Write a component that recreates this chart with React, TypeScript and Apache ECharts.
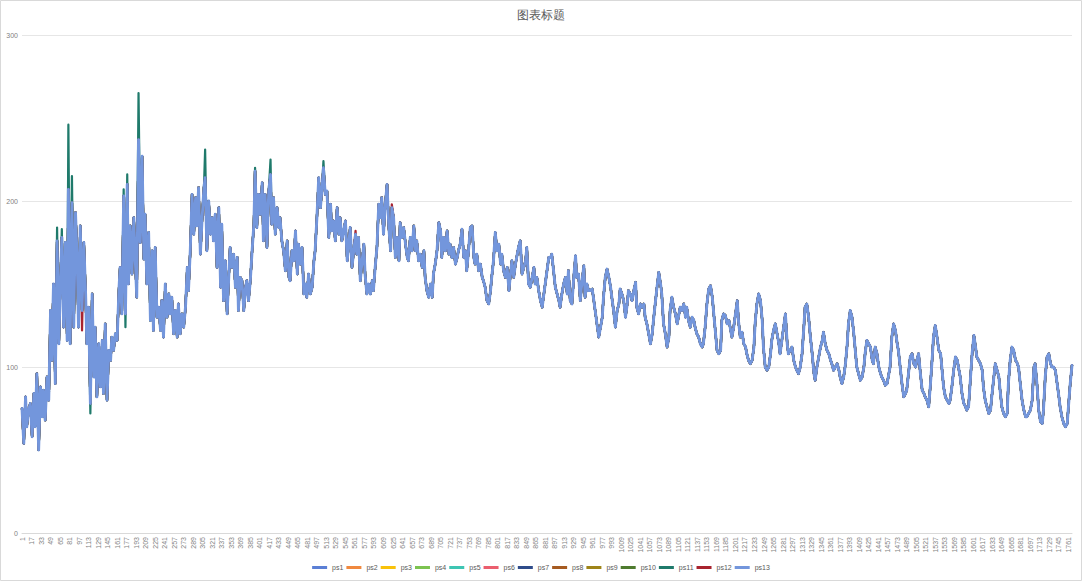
import React, { useEffect, useRef } from "react";
import * as echarts from "echarts";

const TITLE = "图表标题";
const SERIES_NAMES = ["ps1","ps2","ps3","ps4","ps5","ps6","ps7","ps8","ps9","ps10","ps11","ps12","ps13"];
const COLORS = ["#5B7FD5","#F0893F","#F9C20A","#7CC350","#3EC5B3","#EB5E6E","#2F4C8A","#A65B21","#9E8418","#4E7B2F","#1F7A6B","#A8232F","#7396DC"];
const CATEGORY_COUNT = 1767;
const Y_TICKS = [0, 100, 200, 300];

const seg1 = [75,54,82,64,74,78,58,84,64,96,50,88,70,86,68,94,80,134,104,150,90,176,114,144,178,124,175,116,207,114,199,124,193,162,124,185,134,175,144,114,136,78,144,94,124,82,114,88,116,84,126,80,110];
const seg2 = [104,118,110,120,116,146,160,132,203,132,210,150,185,156,190,160,142,237,175,227,165,192,150,181,128,170,122,172,130,136,122,140,118,150,130,144,132,142,120,134,118,138,120,132,124,136,160,146,170,204,180,202,185,208,168,190,208,214,170,200,180,190,176,192,160,196,148,186,140,164,132,156,172,160,168,148,166,134,154,152,134,148,152,140];
const seg3 = [152,170,186,218,184,204,192,211,176,204,172,206,216,186,202,180,196,184,190,176,170,158,176,154,152,170,164,182,156,174,162,172,144,150,142,156,144,148,164,170,190,214,196,210,220,204,206,178,198,182,188,176,196,180,190,176,182,188,164,172,184,160,170,180,168,178,152,164,174,156,144,150,144,152,146,160,172,198,190,202,180,198,210,184];
const seg4 = [170,196,190,166,178,164,187,178,184,174,166,164,178,170,185,170,176,164,168,160,170,154,146,142,150,142,156,162,170,187,182,166,178,170,182,168,174,166,172,162,166,170,174,183,166,170,158,170,184,185,166,162,168,158,162,154,152,148,140,138,146,154,164,181,170,174,162,168,158,154,160,146,154,164,154,162,168,172,176,156,160,164,172,150,148,154,160,150,154,146,140,136,142,150,158,166];
const seg5 = [166,168,158,148,144,140,136,144,150,154,144,158,140,138,154,167,154,156,140,152,161,142,150,146,146,147,142,134,126,118,124,130,142,154,159,154,148,142,134,124,134,138,147,144,140,130,138,146,144,140,146,151,136,132,138,136,138,130,126,120,114,120,128,138,148,157,150,144,126,120,112,118,134,142,136,132,126,130,136,134,138,130,136,128,124,130,128,124,120,118,114,112,114,124,138,147,149,142,134,122,110,108];
const seg6 = [110,128,132,131,126,128,124,118,124,132,140,128,118,121,114,112,108,104,102,104,112,126,138,144,140,128,112,100,98,100,108,116,122,126,120,114,108,116,124,132,114,108,110,112,104,100,98,96,100,108,124,136,138,130,118,108,96,92,100,106,112,116,121,114,110,108,104,102,98,100,102,98,94,90,94,102,114,126,134,130,120,108,100,96,92,94,100,108,116,114,112,104,102,112,108,100,96,94,92,89,90,96];
const seg7 = [100,118,126,122,114,110,100,90,82,84,86,96,106,108,102,100,104,108,96,86,84,82,80,76,90,106,118,125,118,110,108,100,88,82,80,78,80,88,98,106,104,100,94,84,78,76,74,76,92,108,119,114,106,104,102,98,88,80,76,72,74,82,92,102,98,94,86,76,72,70,72,90,104,112,110,104,103,100,90,80,74,70,70,72,74,80,100,102,90,74,67,66,74,94,106,108,102,100,100,98,90,82,76,70,66,64,66,76,90,101];

// ps11 (dark green) reaches further at these samples: [sample, value]
const PS11_PEAKS: [number, number][] = [[21,184],[24,183],[28,246],[30,215],[41,72],[61,207],[62,124],[63,216],[70,265],[110,231],[149,225],[181,224],[140,220]];
// ps12 (dark red) small tips
const PS12_PEAKS: [number, number][] = [[77,130],[36,122],[200,182],[222,198]];

const BASE = [...seg1, ...seg2, ...seg3, ...seg4, ...seg5, ...seg6, ...seg7];

export default function App() {
  const ref = useRef<HTMLDivElement>(null);
  useEffect(() => {
    if (!ref.current) return;
    const chart = echarts.init(ref.current, undefined, { renderer: "svg" });
    const categories = Array.from({ length: CATEGORY_COUNT }, (_, i) => String(i + 1));
    const step = (CATEGORY_COUNT - 1) / (BASE.length - 1);
    const toData = (vals: number[]) => vals.map((v, j) => [Math.round(j * step), v]);
    const withPeaks = (peaks: [number, number][]) => {
      const arr = BASE.slice();
      peaks.forEach(([j, v]) => { arr[j] = v; });
      return arr;
    };
    const series = SERIES_NAMES.map((name, i) => {
      let vals = BASE;
      if (name === "ps11") vals = withPeaks(PS11_PEAKS);
      if (name === "ps12") vals = withPeaks(PS12_PEAKS);
      const top = name === "ps13";
      return {
        name,
        type: "line",
        data: toData(vals),
        showSymbol: false,
        symbol: "none",
        lineStyle: { width: top ? 2.9 : 2.2, color: COLORS[i], join: "round", cap: "round" },
        itemStyle: { color: COLORS[i] },
        z: 2 + i,
      };
    });
    chart.setOption({
      animation: false,
      color: COLORS,
      title: {
        text: TITLE,
        left: "center",
        top: 4,
        textStyle: { fontSize: 12, fontWeight: "normal", color: "#595959", fontFamily: "serif" },
      },
      graphic: [
        { type: "rect", shape: { x: 0.5, y: 0.5, width: 1081, height: 580 }, style: { fill: "none", stroke: "#D9D9D9", lineWidth: 1 }, silent: true },
      ],
      legend: {
        bottom: 5,
        left: "center",
        icon: "rect",
        itemWidth: 15,
        itemHeight: 3,
        itemGap: 3,
        textStyle: { fontSize: 7, color: "#595959" },
        data: SERIES_NAMES,
      },
      grid: { left: 22, right: 10, top: 35, bottom: 48, containLabel: false },
      xAxis: {
        type: "category",
        data: categories,
        boundaryGap: false,
        axisLine: { lineStyle: { color: "#D9D9D9" } },
        axisTick: { show: false },
        axisLabel: { interval: 15, rotate: 90, fontSize: 7, color: "#7F7F7F", margin: 4 },
        splitLine: { show: false },
      },
      yAxis: {
        type: "value",
        min: Y_TICKS[0],
        max: Y_TICKS[Y_TICKS.length - 1],
        interval: 100,
        axisLine: { show: false },
        axisTick: { show: false },
        axisLabel: { fontSize: 7, color: "#7F7F7F", margin: 4 },
        splitLine: { lineStyle: { color: "#E6E6E6" } },
      },
      series,
    });
    return () => chart.dispose();
  }, []);
  return <div ref={ref} style={{ position: "absolute", left: 0, top: 0, width: 1082, height: 581, background: "#fff" }} />;
}
